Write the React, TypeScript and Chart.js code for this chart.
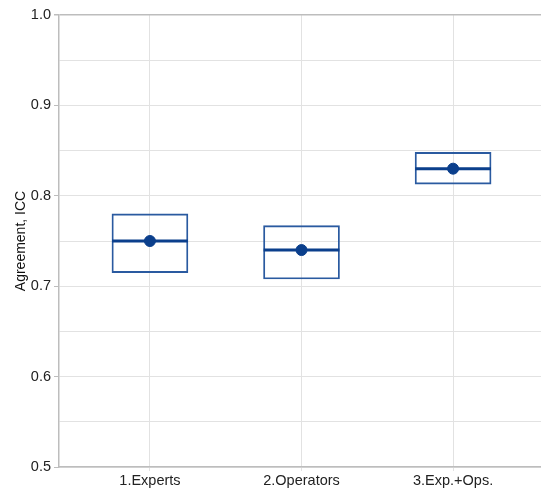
import React, { useEffect, useRef } from "react";
import { Chart, registerables } from "chart.js";

Chart.register(...registerables);

const categories = ["1.Experts", "2.Operators", "3.Exp.+Ops."];
const positions = [1, 2, 3];
const boxLow = [0.715, 0.708, 0.813];
const boxHigh = [0.78, 0.767, 0.848];
const medians = [0.75, 0.74, 0.83];
const yTicks = [0.5, 0.55, 0.6, 0.65, 0.7, 0.75, 0.8, 0.85, 0.9, 0.95, 1.0];
const halfWidth = 0.25;

const BLUE = "#0b3f8c";
const BOX = "#2a5aa0";

export default function App() {
  const ref = useRef<HTMLCanvasElement | null>(null);
  useEffect(() => {
    if (!ref.current) return;
    const medianLine: any[] = [];
    positions.forEach((p, i) => {
      medianLine.push({ x: p - halfWidth, y: medians[i] });
      medianLine.push({ x: p + halfWidth, y: medians[i] });
      medianLine.push({ x: p + halfWidth + 0.01, y: null });
    });
    const chart = new Chart(ref.current, {
      data: {
        datasets: [
          {
            type: "bar",
            data: positions.map((p, i) => ({ x: p, y: [boxLow[i], boxHigh[i]] })) as any,
            backgroundColor: "rgba(0,0,0,0)",
            borderColor: BOX,
            borderWidth: 1.2,
            borderSkipped: false,
            barThickness: 76,
            order: 3,
          } as any,
          {
            type: "line",
            data: medianLine,
            borderColor: BLUE,
            borderWidth: 3,
            pointRadius: 0,
            spanGaps: false,
            order: 2,
          } as any,
          {
            type: "scatter",
            data: positions.map((p, i) => ({ x: p, y: medians[i] })),
            backgroundColor: BLUE,
            borderColor: BLUE,
            pointRadius: 5.5,
            order: 1,
          } as any,
        ],
      },
      options: {
        animation: false,
        responsive: false,
        maintainAspectRatio: false,
        layout: { autoPadding: false, padding: { top: 15, right: 0, left: 0, bottom: 0 } },
        plugins: { legend: { display: false }, tooltip: { enabled: false } },
        scales: {
          x: {
            type: "linear",
            min: 0.4,
            max: 3.58,
            offset: false,
            afterBuildTicks: (s: any) => {
              s.ticks = positions.map((v) => ({ value: v }));
            },
            afterFit: (s: any) => {
              s.height = 22;
              s.paddingLeft = 0;
              s.paddingRight = 0;
            },
            ticks: {
              callback: (v: any) => {
                const i = positions.indexOf(Number(v));
                return i >= 0 ? categories[i] : "";
              },
              color: "#222",
              font: { family: "Liberation Sans", size: 14.5 },
              padding: 1,
              maxRotation: 0,
            },
            grid: { offset: false, color: "#e2e2e2", tickLength: 4, tickColor: "#e2e2e2" },
            border: { color: "#bdbdbd", width: 1.5 },
          },
          y: {
            type: "linear",
            min: 0.5,
            max: 1.0,
            afterBuildTicks: (s: any) => {
              s.ticks = yTicks.map((v) => ({ value: v }));
            },
            afterFit: (s: any) => {
              s.width = 59;
              s.paddingTop = 0;
              s.paddingBottom = 0;
            },
            ticks: {
              callback: (v: any) => {
                const n = Math.round(Number(v) * 100);
                return n % 10 === 0 ? (n / 100).toFixed(1) : "";
              },
              color: "#222",
              font: { family: "Liberation Sans", size: 14.5 },
              padding: 3,
            },
            grid: {
              color: (ctx: any) => (ctx.tick && Math.abs(ctx.tick.value - 1.0) < 1e-6 ? "#bdbdbd" : "#e2e2e2"),
              lineWidth: (ctx: any) => (ctx.tick && Math.abs(ctx.tick.value - 1.0) < 1e-6 ? 1.5 : 1),
              tickLength: 5,
              tickColor: (ctx: any) => {
                const n = Math.round(ctx.tick.value * 100);
                return n % 10 === 0 ? "#bdbdbd" : "rgba(0,0,0,0)";
              },
            },
            border: { color: "#bdbdbd", width: 1.5 },
            title: {
              display: true,
              text: "Agreement, ICC",
              color: "#111",
              font: { family: "Liberation Sans", size: 14 },
              padding: { top: 13, bottom: 2 },
            },
          },
        },
      },
    });
    return () => chart.destroy();
  }, []);
  return (
    <div style={{ position: "absolute", left: 0, top: 0, width: 541, height: 489, background: "#fff" }}>
      <canvas ref={ref} width={541} height={489} style={{ width: 541, height: 489 }} />
    </div>
  );
}
